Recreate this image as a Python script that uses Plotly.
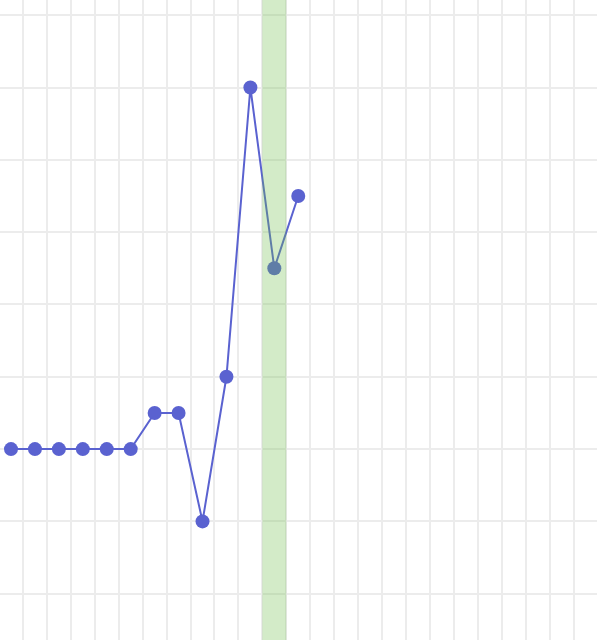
import plotly.graph_objects as go

# series, one point per step
steps = list(range(13))
values = [0, 0, 0, 0, 0, 0, 0.5, 0.5, -1, 1, 5, 2.5, 3.5]

# the step that is highlighted with the green band
highlight_step = 11

fig = go.Figure()

fig.add_trace(go.Scatter(
    x=steps,
    y=values,
    mode="lines+markers",
    line=dict(color="rgb(90,98,208)", width=2),
    marker=dict(color="rgb(90,98,208)", size=14),
    hoverinfo="x+y",
))

# green band over one step, drawn on top of the line
fig.add_shape(
    type="rect",
    xref="x", yref="paper",
    x0=highlight_step - 0.5, x1=highlight_step + 0.5,
    y0=0, y1=1,
    fillcolor="rgb(110,188,72)",
    opacity=0.3,
    line_width=0,
    layer="above",
)

axis_style = dict(
    showgrid=True,
    gridcolor="#ececec",
    gridwidth=2,
    zeroline=False,
    showticklabels=False,
    showline=False,
    ticks="",
    dtick=1,
    fixedrange=True,
)

fig.update_xaxes(range=[-0.46, 24.48], tick0=0.5, **axis_style)
fig.update_yaxes(range=[-2.64, 6.21], tick0=0, **axis_style)

fig.update_layout(
    width=597,
    height=640,
    margin=dict(l=0, r=0, t=0, b=0),
    paper_bgcolor="white",
    plot_bgcolor="white",
    showlegend=False,
)

# page body has a default margin, drop it so the plot fills the window
fig.write_html(
    "out.html",
    config={"displayModeBar": False},
    post_script="document.body.style.margin='0';",
)
